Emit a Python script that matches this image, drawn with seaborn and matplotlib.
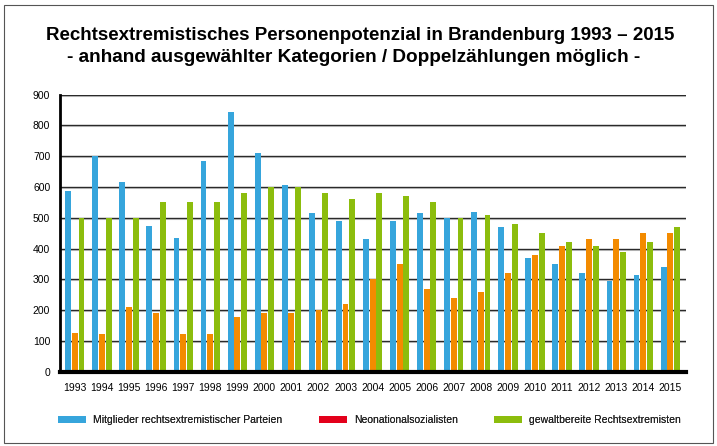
import matplotlib
matplotlib.use('Agg')
import matplotlib.pyplot as plt
import pandas as pd
import seaborn as sns
from matplotlib.patches import Patch, Rectangle

sns.set_theme(style='white')
plt.rcParams['font.family'] = ['Liberation Sans', 'DejaVu Sans']
plt.rcParams['text.color'] = 'black'

years = [str(y) for y in range(1993, 2016)]
parteien = [587, 700, 615, 475, 435, 685, 845, 710, 605, 515, 490, 430, 490,
            515, 500, 520, 470, 370, 350, 320, 295, 315, 340]
neonazis = [126, 122, 210, 190, 122, 122, 178, 190, 190, 200, 220, 300, 350,
            270, 240, 260, 320, 380, 410, 430, 430, 450, 450]
gewalt = [500, 500, 500, 550, 550, 550, 580, 600, 600, 580, 560, 580, 570,
          550, 500, 510, 480, 450, 420, 410, 390, 420, 470]
series = ['Mitglieder rechtsextremistischer Parteien', 'Neonationalsozialisten',
          'gewaltbereite Rechtsextremisten']
bar_colors = ['#36a5dc', '#f38b00', '#8cbd0d']
legend_colors = ['#36a5dc', '#e3001b', '#8cbd0d']

df = pd.DataFrame({
    'Jahr': years * 3,
    'Wert': parteien + neonazis + gewalt,
    'Kategorie': [s for s in series for _ in years],
})

fig = plt.figure(figsize=(7.17, 4.46), dpi=100)
ax = fig.add_axes([60 / 717, 1 - 371.7 / 446, 626 / 717, 277 / 446])
ax.set_axisbelow(True)

# gridlines first, bars on top
for y in range(100, 901, 100):
    ax.axhline(y, color='#2a2a2a', lw=1, zorder=0.6)
    ax.axhline(y - 3.2, color='#d0d0d0', lw=0.8, zorder=0.5)

sns.barplot(data=df, x='Jahr', y='Wert', hue='Kategorie', palette=bar_colors,
            width=0.74, gap=0.12, ax=ax, legend=False, saturation=1,
            edgecolor='none', linewidth=0)
for cont in ax.containers:
    for bar in cont:
        bar.set_zorder(3)

ax.set_ylim(0, 900)
ax.set_xlim(-0.55, len(years) - 0.42)
ax.set_yticks(range(0, 901, 100))
ax.set_xlabel('')
ax.set_ylabel('')
for s in ['top', 'right']:
    ax.spines[s].set_visible(False)
ax.spines['left'].set_linewidth(2)
ax.spines['left'].set_color('black')
ax.spines['bottom'].set_linewidth(3)
ax.spines['bottom'].set_color('black')
for s in ax.spines.values():
    s.set_zorder(5)
ax.tick_params(axis='both', length=0, labelsize=7.5, colors='black')
ax.tick_params(axis='y', pad=7)
ax.tick_params(axis='x', pad=8)

fig.text(360 / 717, 1 - 36 / 446, 'Rechtsextremistisches Personenpotenzial in Brandenburg 1993 – 2015',
         ha='center', va='center', fontsize=13.5, fontweight='bold', color='black')
fig.text(354 / 717, 1 - 58 / 446, '- anhand ausgewählter Kategorien / Doppelzählungen möglich -',
         ha='center', va='center', fontsize=13.7, fontweight='bold', color='black')

# one legend box per entry, placed where the reference puts them
for handle_x, color, label in zip([58, 319, 494], legend_colors, series):
    leg = fig.legend([Patch(facecolor=color, edgecolor='none')], [label],
                     loc='center left', bbox_to_anchor=(handle_x / 717, 1 - 420 / 446),
                     frameon=False, fontsize=7.5, handlelength=2.7, handleheight=0.7,
                     handletextpad=0.7, borderpad=0, borderaxespad=0,
                     labelcolor='#222222')
    fig.add_artist(leg)

fig.patches.append(Rectangle((4 / 717, 3 / 446), 709 / 717, 438 / 446,
                             transform=fig.transFigure, fill=False,
                             edgecolor='#555555', lw=0.8))

fig.savefig('out.png', dpi=100)
